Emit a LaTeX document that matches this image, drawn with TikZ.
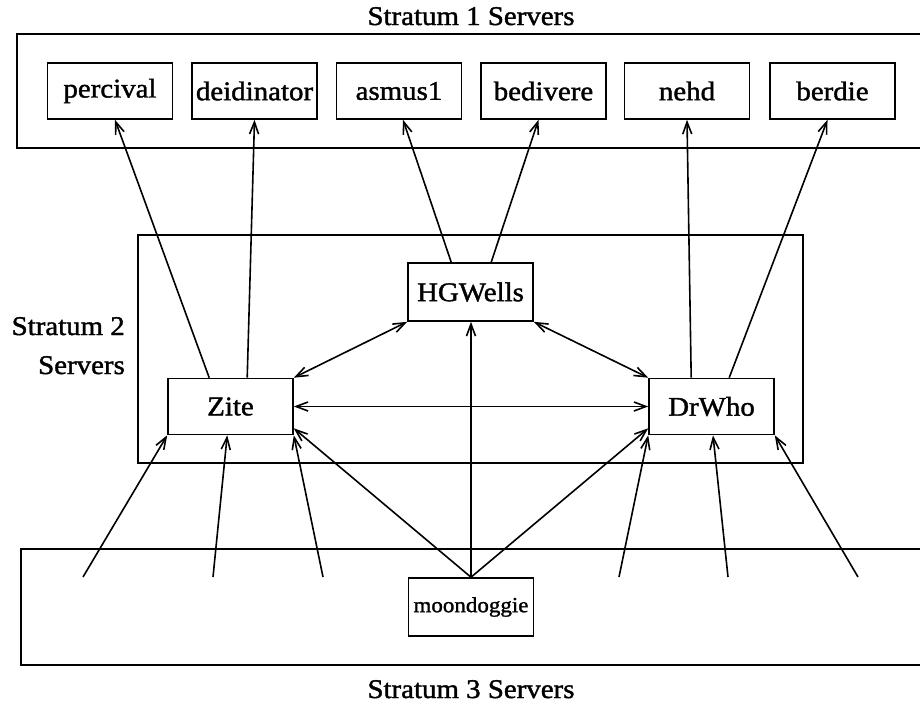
\documentclass[tikz,border=0pt]{standalone}
\usepackage{fontspec}
\setmainfont{Liberation Serif}[FakeStretch=1.07, FakeBold=1.4]
\usetikzlibrary{arrows.meta,calc}

\begin{document}
\begin{tikzpicture}[
  x=1pt, y=-1pt,
  ln/.style={line width=1.6pt},
  srv/.style={draw, line width=1.6pt, minimum width=125pt, minimum height=56pt,
              inner sep=0pt, font=\fontsize{27}{32}\selectfont},
  smallsrv/.style={srv, font=\fontsize{21.5}{26}\selectfont},
  tip/.style={ln, -{Straight Barb[length=12pt,width=9pt]}},
  both/.style={ln, {Straight Barb[length=12pt,width=9pt]}-{Straight Barb[length=12pt,width=9pt]}},
  ttl/.style={font=\fontsize{27}{32}\selectfont, inner sep=0pt}
]
\useasboundingbox (0,0) rectangle (920,705);

% stratum frames (open on the right)
\draw[ln] (920,34) -- (17,34) -- (17,148) -- (920,148);
\draw[ln] (138,235) rectangle (803,463);
\draw[ln] (920,549) -- (21,549) -- (21,665) -- (920,665);

% headings
\node[ttl, anchor=base] (t1) at (471,25) {Stratum 1 Servers};
\node[ttl, anchor=base east] (t2a) at (125,335) {Stratum 2};
\node[ttl, anchor=base east] (t2b) at (125,374) {Servers};
\node[ttl, anchor=base] (t3) at (471,698) {Stratum 3 Servers};

% stratum 1 servers
\node[srv] (percival)   at (110,91)   {percival};
\node[srv] (deidinator) at (254.5,91) {deidinator};
\node[srv] (asmus)      at (399,91)   {asmus1};
\node[srv] (bedivere)   at (543.5,91) {bedivere};
\node[srv] (nehd)       at (687,91)   {nehd};
\node[srv] (berdie)     at (832.5,91) {berdie};

% stratum 2 servers
\node[srv, minimum height=58pt] (hg) at (470.5,292) {HGWells};
\node[srv] (zite)  at (230.5,406.5) {Zite};
\node[srv] (drwho) at (711.5,406.5) {DrWho};

% stratum 3 server
\node[smallsrv, minimum height=58pt] (moon) at (471,607) {moondoggie};

% stratum 2 -> stratum 1
\draw[tip] ($(zite.north west)+(42,0)$) -- ($(percival.south)+(5,0)$);
\draw[tip] ($(zite.north west)+(80,0)$) -- (deidinator.south);
\draw[tip] ($(hg.north west)+(44,0)$) -- ($(asmus.south)+(4,0)$);
\draw[tip] ($(hg.north west)+(84,0)$) -- ($(bedivere.south)+(-5,0)$);
\draw[tip] ($(drwho.north west)+(43,0)$) -- (nehd.south);
\draw[tip] ($(drwho.north west)+(81,0)$) -- ($(berdie.south)+(-5,0)$);

% peer links inside stratum 2
\draw[both] (hg.south west) -- (zite.north east);
\draw[both] (hg.south east) -- (drwho.north west);
\draw[both] (zite.east) -- (drwho.west);

% moondoggie -> stratum 2
\draw[tip] (moon.north) -- (moon.north |- hg.south);
\draw[tip] (moon.north) -- ($(zite.south east)+(0,-7)$);
\draw[tip] (moon.north) -- ($(drwho.south west)+(0,-7)$);

% other stratum 3 clients
\coordinate (c1) at (83,577);
\coordinate (c2) at (213,577);
\coordinate (c3) at (323,577);
\coordinate (c4) at (619,577);
\coordinate (c5) at (728,577);
\coordinate (c6) at (858,577);
\draw[tip] (c1) -- (zite.south west);
\draw[tip] (c2) -- ($(zite.south west)+(60,0)$);
\draw[tip] (c3) -- (zite.south east);
\draw[tip] (c4) -- (drwho.south west);
\draw[tip] (c5) -- ($(drwho.south)+(1.5,0)$);
\draw[tip] (c6) -- (drwho.south east);
\end{tikzpicture}
\end{document}
